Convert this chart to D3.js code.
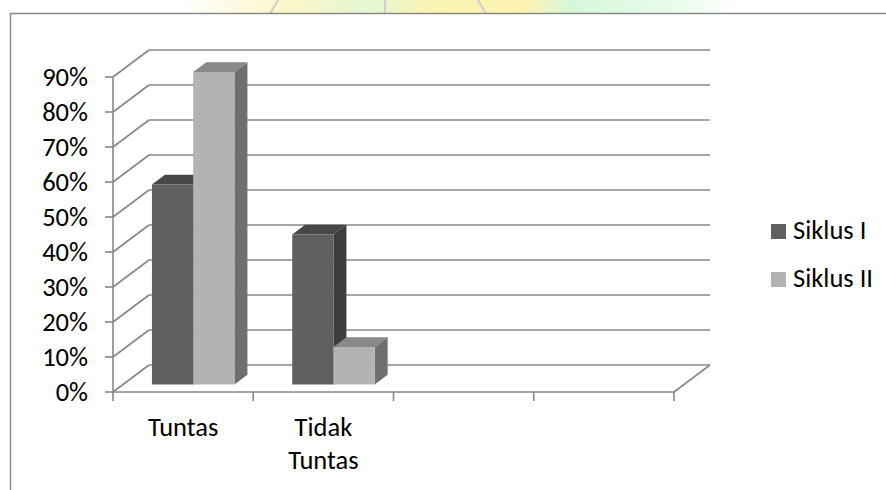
<!DOCTYPE html>
<html>
<head>
<meta charset="utf-8">
<script src="https://cdn.jsdelivr.net/npm/d3@7"></script>
<style>
  body { margin: 0; background: #fff; }
  svg text { font-family: Calibri, Carlito, Lato, sans-serif; fill: #000; }
</style>
</head>
<body>
<svg id="chart" width="886" height="490"></svg>
<script>
// data
var categories = ["Tuntas", "Tidak Tuntas", "", ""]
var series = ["Siklus I", "Siklus II"]
var siklusI = [0.5714, 0.4286]
var siklusII = [0.8929, 0.1071]
var yTicks = [0, 0.1, 0.2, 0.3, 0.4, 0.5, 0.6, 0.7, 0.8, 0.9]

var colors = {
  "Siklus I": { front: "#606060", top: "#474747", side: "#3d3d3d" },
  "Siklus II": { front: "#b3b3b3", top: "#898989", side: "#6f6f6f" }
}
var gridColor = "#888888"
var fontSize = 26.5

var svg = d3.select("#chart")

// faint watermark strip above the chart box
var wm = svg.append("g")
var grad = svg.append("defs").append("linearGradient").attr("id", "wm")
grad.selectAll("stop")
  .data([[0.0, "#ffffff"], [0.2, "#fbf6c8"], [0.34, "#e4f7d4"], [0.45, "#fbf3b0"], [0.62, "#fcf3b4"], [0.7, "#d6f7dc"], [0.86, "#e6fbe9"], [1, "#ffffff"]])
  .enter().append("stop")
  .attr("offset", d => d[0])
  .attr("stop-color", d => d[1])
wm.append("rect").attr("x", 180).attr("y", 0).attr("width", 560).attr("height", 14).attr("fill", "url(#wm)")
wm.selectAll("line").data([[278, 0, 270, 14], [385, 0, 385, 14], [478, 0, 486, 14]])
  .enter().append("line")
  .attr("x1", d => d[0]).attr("y1", d => d[1]).attr("x2", d => d[2]).attr("y2", d => d[3])
  .attr("stroke", "#cfcfcf").attr("stroke-width", 2)

// chart box
svg.append("rect")
  .attr("x", 10.5).attr("y", 13.5).attr("width", 900).attr("height", 500)
  .attr("fill", "#fff").attr("stroke", "#8a8a8a").attr("stroke-width", 1.5)

// front plane scales + depth offset
var x = d3.scaleBand().domain(d3.range(categories.length)).range([113, 674])
var y = d3.scaleLinear().domain([0, 0.9]).range([392, 77])
var xs = d3.scaleBand().domain(series).range([0, x.bandwidth()]).paddingInner(0).paddingOuter(0.7)
var depth = { dx: 36, dy: -27 }
var barDepth = [0.28, 0.64] // fraction of the depth the bars occupy

var g = svg.append("g").attr("fill", "none").attr("stroke", gridColor).attr("stroke-width", 1.6)

// back wall gridlines
g.selectAll(".back").data(yTicks).enter().append("line")
  .attr("x1", 113 + depth.dx).attr("x2", 674 + depth.dx)
  .attr("y1", d => y(d) + depth.dy).attr("y2", d => y(d) + depth.dy)

// side wall diagonals
g.selectAll(".diag").data(yTicks).enter().append("line")
  .attr("x1", 113).attr("x2", 113 + depth.dx)
  .attr("y1", d => y(d)).attr("y2", d => y(d) + depth.dy)

// front value axis
g.append("line").attr("x1", 113).attr("x2", 113).attr("y1", y(0)).attr("y2", y(0.9))
g.selectAll(".ytick").data(yTicks).enter().append("line")
  .attr("x1", 105).attr("x2", 113).attr("y1", d => y(d)).attr("y2", d => y(d))

// floor front edge + right diagonal
g.append("line").attr("x1", 113).attr("x2", 674).attr("y1", y(0)).attr("y2", y(0))
g.append("line").attr("x1", 674).attr("x2", 674 + depth.dx).attr("y1", y(0)).attr("y2", y(0) + depth.dy)

// category ticks
var bounds = d3.range(categories.length + 1).map(i => 113 + i * x.step())
g.selectAll(".xtick").data(bounds).enter().append("line")
  .attr("x1", d => d).attr("x2", d => d).attr("y1", y(0)).attr("y2", y(0) + 9)

// bars
var bars = []
categories.forEach((c, i) => {
  if (i < siklusI.length) {
    bars.push({ cat: i, s: "Siklus I", v: siklusI[i] })
    bars.push({ cat: i, s: "Siklus II", v: siklusII[i] })
  }
})

function pt(px, py, f) {
  return [px + depth.dx * f, py + depth.dy * f]
}

var bg = svg.append("g")
bars.forEach(b => {
  var x0 = x(b.cat) + xs(b.s)
  var x1 = x0 + xs.bandwidth()
  var yt = y(b.v), yb = y(0)
  var f0 = barDepth[0], f1 = barDepth[1]
  var col = colors[b.s]
  var front = [pt(x0, yt, f0), pt(x1, yt, f0), pt(x1, yb, f0), pt(x0, yb, f0)]
  var top = [pt(x0, yt, f0), pt(x0, yt, f1), pt(x1, yt, f1), pt(x1, yt, f0)]
  var side = [pt(x1, yt, f0), pt(x1, yt, f1), pt(x1, yb, f1), pt(x1, yb, f0)]
  var gb = bg.append("g")
  gb.append("polygon").attr("points", side.join(" ")).attr("fill", col.side)
  gb.append("polygon").attr("points", top.join(" ")).attr("fill", col.top)
  gb.append("polygon").attr("points", front.join(" ")).attr("fill", col.front)
})

// value labels
svg.selectAll(".ylab").data(yTicks).enter().append("text")
  .attr("x", 88).attr("y", d => y(d) + 9)
  .attr("text-anchor", "end").attr("font-size", fontSize)
  .text(d => Math.round(d * 100) + "%")

// category labels (wrap on space)
categories.forEach((c, i) => {
  if (!c) return
  var words = c.split(" ")
  var t = svg.append("text")
    .attr("text-anchor", "middle").attr("font-size", fontSize)
  words.forEach((w, j) => {
    t.append("tspan").attr("x", x(i) + x.bandwidth() / 2).attr("y", 436 + j * 33).text(w)
  })
})

// legend
var lg = svg.append("g").attr("transform", "translate(771,224)")
series.forEach((s, i) => {
  lg.append("rect").attr("x", 0).attr("y", i * 48).attr("width", 15).attr("height", 15).attr("fill", colors[s].front)
  lg.append("text").attr("x", 22).attr("y", i * 48 + 15).attr("font-size", fontSize).text(s)
})
</script>
</body>
</html>
